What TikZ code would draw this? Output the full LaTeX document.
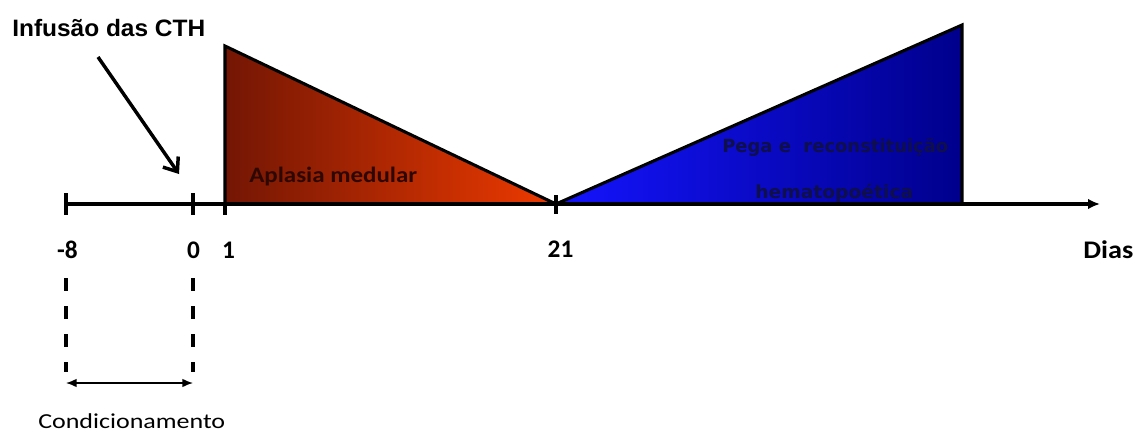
\documentclass[tikz,border=0pt]{standalone}
\usepackage{fontspec}
\usepackage{graphicx}
\setmainfont{Carlito}
\newfontfamily\arialf{Liberation Sans}
\newfontfamily\dvsf{DejaVu Sans}
\usetikzlibrary{arrows.meta}
\newlength\pxu \setlength\pxu{0.75pt}
\newcommand\fitw[2]{\resizebox{#1\pxu}{\height}{#2}}
\definecolor{redL}{RGB}{115,22,4}
\definecolor{redR}{RGB}{238,58,0}
\definecolor{bluL}{RGB}{20,20,255}
\definecolor{bluR}{RGB}{0,0,140}
\definecolor{aptext}{RGB}{45,8,0}
\definecolor{pgtext}{RGB}{15,15,75}
\tikzset{
  thickline/.style={line width=2.3pt},
  tick/.style={line width=2.3pt},
  tri/.style={draw=black, line width=2.3pt, line join=miter},
  dashv/.style={line width=2.6pt, dash pattern=on 9.75pt off 11.25pt},
  lab/.style={inner sep=0pt, anchor=base},
  dig/.style={lab, font=\fontsize{19}{20}\selectfont\bfseries},
}
\begin{document}
\begin{tikzpicture}[x=0.75pt,y=-0.75pt]
\useasboundingbox (0,0) rectangle (1139,432);
% coordinates
\coordinate (ax0) at (64,204);
\coordinate (ax1) at (1100,204);
\coordinate (r1) at (225,46);
\coordinate (r2) at (225,204);
\coordinate (r3) at (556,204);
\coordinate (b1) at (556,204);
\coordinate (b2) at (962,25);
\coordinate (b3) at (962,204);
% triangles
\path[tri, left color=redL, right color=redR] (r1) -- (r2) -- (r3) -- cycle;
\path[tri, left color=bluL, right color=bluR] (b1) -- (b2) -- (b3) -- cycle;
% axis
\draw[thickline, -{Latex[length=9pt,width=8pt]}] (ax0) -- (ax1);
% ticks
\coordinate (t8a) at (66,193); \coordinate (t8b) at (66,215);
\coordinate (t0a) at (193,193); \coordinate (t0b) at (193,215);
\coordinate (t1a) at (225,204); \coordinate (t1b) at (225,215);
\coordinate (t21a) at (556,195); \coordinate (t21b) at (556,214);
\draw[tick] (t8a) -- (t8b);
\draw[tick] (t0a) -- (t0b);
\draw[tick] (t1a) -- (t1b);
\draw[tick] (t21a) -- (t21b);
% infusion arrow
\coordinate (ia) at (98,57);
\coordinate (ib) at (179,174);
\draw[line width=2.6pt, -{Straight Barb[length=9pt,width=14pt,line width=2.6pt]}] (ia) -- (ib);
% dashed lines
\coordinate (d8a) at (66,278); \coordinate (d8b) at (66,372);
\coordinate (d0a) at (193,278); \coordinate (d0b) at (193,372);
\draw[dashv] (d8a) -- (d8b);
\draw[dashv] (d0a) -- (d0b);
% double arrow
\coordinate (ca) at (66,383); \coordinate (cb) at (193,383);
\draw[line width=1.1pt, {Latex[length=8pt,width=6.5pt]}-{Latex[length=8pt,width=6.5pt]}] (ca) -- (cb);
% texts
\node[inner sep=0pt, anchor=base west] (inf) at (12,36)
  {\fontsize{17.8}{20}\arialf\bfseries\fitw{193}{Infusão das CTH}};
\node[dig] (lm8) at (67.5,258) {-8};
\node[dig] (l0) at (193.5,258) {0};
\node[dig] (l1) at (228.5,258) {1};
\node[dig] (l21) at (560.5,257) {21};
\node[inner sep=0pt, anchor=base west] (dias) at (1083,258)
  {\fontsize{19}{20}\selectfont\bfseries\fitw{50}{Dias}};
\node[inner sep=0pt, anchor=base west] (cond) at (38,428)
  {\fontsize{16}{18}\selectfont\fitw{187}{Condicionamento}};
\node[inner sep=0pt, anchor=base west, text=aptext] (apl) at (249,182)
  {\fontsize{16.5}{18}\selectfont\bfseries\fitw{168}{Aplasia medular}};
\node[inner sep=0pt, anchor=base west, text=pgtext] (peg) at (722,152)
  {\fontsize{13.5}{16}\dvsf\bfseries\fitw{226}{Pega e\ \ reconstituição}};
\node[inner sep=0pt, anchor=base west, text=pgtext] (hem) at (755,198)
  {\fontsize{13.5}{16}\dvsf\bfseries\fitw{158}{hematopoética}};
\end{tikzpicture}
\end{document}
